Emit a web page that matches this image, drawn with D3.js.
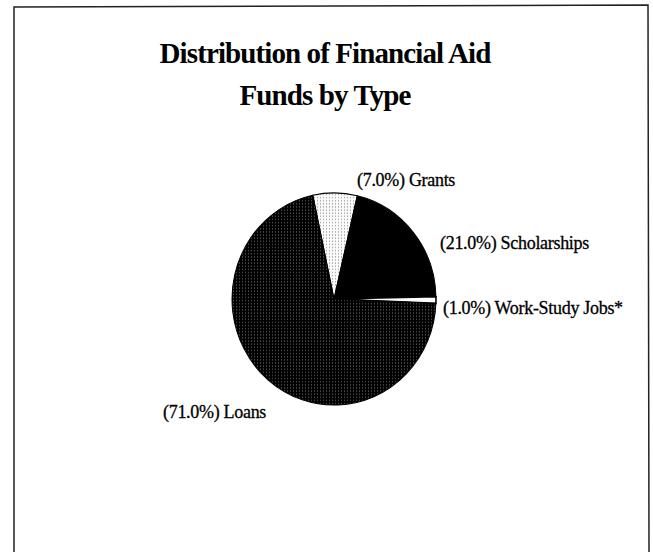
<!DOCTYPE html>
<html>
<head>
<meta charset="utf-8">
<style>
  body { margin: 0; background: #fff; }
  text { font-family: "Liberation Serif", "Times New Roman", serif; fill: #000; }
</style>
</head>
<body>
<script src="https://cdn.jsdelivr.net/npm/d3@7/dist/d3.min.js"></script>
<script>

  const width = 653,
        height = 552

  // chart data
  const categories = ['Grants', 'Scholarships', 'Work-Study Jobs*', 'Loans']
  const shares = [7.0, 21.0, 1.0, 71.0]
  const pctLabels = ['(7.0%)', '(21.0%)', '(1.0%)', '(71.0%)']
  const titleLines = ['Distribution of Financial Aid', 'Funds by Type']

  const center = {x: 334, y: 299},
        radius = 102,
        yStretch = 1.04,
        startDeg = -12

  const svg = d3.select('body').append('svg')
      .attr('width', width)
      .attr('height', height)

  const defs = svg.append('defs')

  // dark dotted fill (loans)
  const darkDots = defs.append('pattern')
      .attr('id', 'darkDots')
      .attr('width', 3)
      .attr('height', 3)
      .attr('patternUnits', 'userSpaceOnUse')
  darkDots.append('rect').attr('width', 3).attr('height', 3).attr('fill', '#000')
  darkDots.append('rect').attr('x', 1).attr('y', 1).attr('width', 1).attr('height', 1).attr('fill', '#6a6a6a')

  // light dotted fill (grants)
  const lightDots = defs.append('pattern')
      .attr('id', 'lightDots')
      .attr('width', 3)
      .attr('height', 3)
      .attr('patternUnits', 'userSpaceOnUse')
  lightDots.append('rect').attr('width', 3).attr('height', 3).attr('fill', '#fafafa')
  lightDots.append('rect').attr('x', 1).attr('y', 1).attr('width', 1).attr('height', 1).attr('fill', '#888')

  const fills = ['url(#lightDots)', '#000', '#fff', 'url(#darkDots)']

  // frame
  svg.append('path')
      .attr('d', `M14,552 L14,7 L648,5 L649,552`)
      .attr('fill', 'none')
      .attr('stroke', '#222')
      .attr('stroke-width', 1.5)

  // title
  svg.append('g').selectAll('text')
      .data(titleLines)
      .enter()
      .append('text')
        .attr('x', 325)
        .attr('y', (d, i) => 63 + i * 42)
        .attr('text-anchor', 'middle')
        .style('font-size', '29px')
        .style('font-weight', 'bold')
        .style('letter-spacing', '-0.9px')
        .text(d => d)

  const data = categories.map((c, i) => ({name: c, value: shares[i], pct: pctLabels[i], fill: fills[i]}))

  const pie = d3.pie()
      .sort(null)
      .value(d => d.value)
      .startAngle(startDeg * Math.PI / 180)
      .endAngle((startDeg + 360) * Math.PI / 180)

  const arc = d3.arc()
      .innerRadius(0)
      .outerRadius(radius)

  const g = svg.append('g')
      .attr('transform', `translate(${center.x}, ${center.y}) scale(1, ${yStretch})`)

  g.selectAll('path')
      .data(pie(data))
      .enter()
      .append('path')
        .attr('d', arc)
        .attr('fill', d => d.data.fill)
        .attr('stroke', '#000')
        .attr('stroke-width', d => d.data.name === 'Work-Study Jobs*' ? 1.6 : 1)

  // labels
  const labelPos = [
    {x: 357, y: 186},
    {x: 440, y: 249},
    {x: 443, y: 314},
    {x: 163, y: 418}
  ]

  svg.append('g').selectAll('text')
      .data(data)
      .enter()
      .append('text')
        .attr('x', (d, i) => labelPos[i].x)
        .attr('y', (d, i) => labelPos[i].y)
        .style('font-size', '18px')
        .style('letter-spacing', '-0.3px')
        .style('stroke', '#000')
        .style('stroke-width', 0.3)
        .text(d => `${d.pct} ${d.name}`)

</script>
</body>
</html>
